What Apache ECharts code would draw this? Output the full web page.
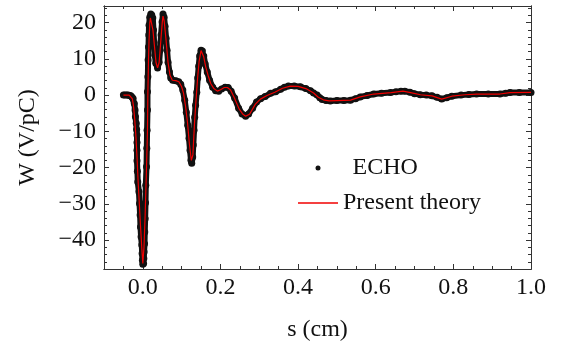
<!DOCTYPE html>
<html>
<head>
<meta charset="utf-8">
<script src="https://cdn.jsdelivr.net/npm/echarts@6/dist/echarts.min.js"></script>
<style>
  html, body { margin: 0; padding: 0; background: #fff; }
  #chart { width: 563px; height: 348px; }
</style>
</head>
<body>
<div id="chart"></div>
<script>
// ECHO simulation points (s in cm, W in V/pC)
const echoS = [-0.050, -0.046, -0.042, -0.038, -0.034, -0.031, -0.028, -0.025, -0.022, -0.020,
  -0.019, -0.017, -0.016, -0.015, -0.015, -0.015, -0.015, -0.014, -0.013, -0.010,
  -0.0085, -0.007, -0.006, -0.0045, -0.0026, -0.0018, -0.001, 0, 0.002, 0.0026,
  0.0033, 0.0044, 0.005, 0.006, 0.007, 0.0077, 0.0095, 0.0103, 0.011, 0.012,
  0.012, 0.013, 0.0136, 0.0146, 0.0154, 0.016, 0.018, 0.0206, 0.023, 0.0257,
  0.0275, 0.029, 0.031, 0.0334, 0.038, 0.042, 0.0445, 0.047, 0.0496, 0.052,
  0.0548, 0.0573, 0.06, 0.0625, 0.065, 0.0686, 0.072, 0.077, 0.085, 0.0925,
  0.0977, 0.103, 0.108, 0.112, 0.1157, 0.119, 0.1216, 0.124, 0.126, 0.1285,
  0.130, 0.132, 0.1337, 0.136, 0.139, 0.1414, 0.144, 0.1465, 0.150, 0.1535,
  0.157, 0.1607, 0.166, 0.172, 0.180, 0.1877, 0.1954, 0.203, 0.212, 0.2198,
  0.2275, 0.2365, 0.2468, 0.2558, 0.2648, 0.2725, 0.2828, 0.293, 0.3033, 0.315,
  0.329, 0.342, 0.355, 0.365, 0.375, 0.39, 0.406, 0.42, 0.432, 0.44,
  0.449, 0.456, 0.462, 0.472, 0.483, 0.5, 0.518, 0.535, 0.548, 0.56,
  0.578, 0.595, 0.615, 0.638, 0.652, 0.665, 0.675, 0.688, 0.7, 0.715,
  0.73, 0.745, 0.758, 0.77, 0.783, 0.796, 0.82, 0.84, 0.86, 0.89,
  0.92, 0.935, 0.946, 0.97, 1.0];
const echoW = [0, 0, 0, 0, -0.1, -0.2, -0.5, -0.9, -2.3, -4.1,
  -6.0, -7.8, -9.5, -11, -13.1, -15.2, -18.1, -21, -24, -26.7,
  -29.9, -33.1, -36.4, -39.1, -41.4, -43.7, -45.6, -46.7, -46.5, -45.1,
  -43.3, -41, -37.8, -34.1, -29.7, -24.9, -19.8, -14.7, -9.7, -4.1,
  0.9, 5.1, 9.7, 13.3, 16.6, 19.3, 21.5, 22.4, 22.1, 21.3,
  18, 14.6, 11, 8.8, 7.5, 9.1, 12.4, 16.6, 20.2, 22.4,
  21.5, 19, 15.7, 12.4, 9.1, 6.4, 4.7, 4.1, 4, 3.7,
  3, 1.4, -1.4, -4.7, -8.3, -11.9, -15.2, -18, -18.8, -17.1,
  -13.8, -9.7, -6.1, -2.8, 0.8, 4.7, 8, 10.8, 12.4, 12.2,
  10.8, 8.6, 6.4, 4.1, 2.2, 1.2, 1.1, 1.7, 2.2, 2.1,
  1.1, -0.8, -3.6, -5.2, -5.8, -5.2, -3.6, -1.9, -1, -0.4,
  0.5, 0.9, 1.6, 2.2, 2.5, 2.5, 2.3, 1.8, 1.2, 0.6,
  0, -0.7, -1.2, -1.5, -1.6, -1.5, -1.5, -1.4, -1, -0.5,
  -0.1, 0.3, 0.5, 0.7, 0.9, 1.1, 1.1, 0.8, 0.4, 0.1,
  0, -0.2, -0.6, -1.1, -0.7, -0.3, 0, 0.2, 0.3, 0.3,
  0.3, 0.5, 0.7, 0.75, 0.75];

// present theory curve
const theoryS = [-0.05, -0.035, -0.03, -0.027, -0.024, -0.021, -0.018, -0.015, -0.012, -0.009,
  -0.006, -0.003, 0, 0.003, 0.006, 0.009, 0.011, 0.012, 0.013, 0.0145,
  0.016, 0.018, 0.0195, 0.022, 0.026, 0.03, 0.034, 0.038, 0.042, 0.046,
  0.05, 0.052, 0.055, 0.06, 0.065, 0.07, 0.076, 0.085, 0.093, 0.1,
  0.105, 0.11, 0.115, 0.12, 0.125, 0.129, 0.133, 0.137, 0.141, 0.145,
  0.15, 0.153, 0.157, 0.162, 0.168, 0.175, 0.183, 0.192, 0.2, 0.21,
  0.218, 0.226, 0.236, 0.248, 0.258, 0.265, 0.275, 0.29, 0.303, 0.32,
  0.34, 0.36, 0.38, 0.4, 0.42, 0.44, 0.452, 0.465, 0.48, 0.5,
  0.535, 0.56, 0.595, 0.64, 0.67, 0.69, 0.715, 0.745, 0.77, 0.796,
  0.83, 0.86, 0.92, 0.946, 1.0];
const theoryW = [0, 0, -0.3, -1, -3, -6.5, -11, -17, -24, -30,
  -36, -41.5, -46.5, -42, -33, -22, -14, -9.5, 0, 9,
  15, 20, 21.3, 21, 18, 13.5, 9, 7.5, 9, 14.5,
  20, 21.8, 20.5, 15, 9, 5.5, 4.1, 4, 3.7, 2.3,
  0.5, -3, -7.5, -13.5, -18, -16.5, -8, -1.5, 4.5, 9.3,
  12.3, 12.2, 10.5, 7.8, 5.5, 3.2, 1.8, 1.1, 1.5, 2.1,
  2.1, 1.4, -0.8, -3.8, -5.3, -5.8, -5.3, -2.5, -1.1, -0.1,
  0.8, 1.9, 2.5, 2.4, 1.8, 0.6, -0.6, -1.3, -1.6, -1.5,
  -1.4, -0.5, 0.3, 0.7, 1.1, 0.7, 0.1, -0.2, -1.1, -0.3,
  0.1, 0.3, 0.3, 0.7, 0.75];

// tick positions
const xMajor = [0, 0.2, 0.4, 0.6, 0.8, 1.0];
const xMinor = [-0.05, 0.05, 0.1, 0.15, 0.25, 0.3, 0.35, 0.45, 0.5, 0.55, 0.65, 0.7, 0.75, 0.85, 0.9, 0.95];
const yMajor = [-40, -30, -20, -10, 0, 10, 20];
const yMinor = [-48, -46, -44, -42, -38, -36, -34, -32, -28, -26, -24, -22, -18, -16, -14, -12,
  -8, -6, -4, -2, 2, 4, 6, 8, 12, 14, 16, 18, 22, 24];

const FONT = 'Liberation Serif';
const frameColor = '#333';
const textColor = '#111';
const dotColor = '#111';
const theoryColor = '#f00000';

function xAxisDef(pos, ticks, len, withLabels) {
  return {
    type: 'value',
    position: pos,
    min: -0.1,
    max: 1.0,
    axisLine: { show: true, onZero: false, lineStyle: { color: frameColor, width: 1 } },
    axisTick: { show: true, inside: true, length: len, customValues: ticks, lineStyle: { color: frameColor } },
    axisLabel: {
      show: withLabels,
      customValues: xMajor,
      margin: 7,
      color: textColor,
      fontFamily: FONT,
      fontSize: 24,
      formatter: (v) => v.toFixed(1),
    },
    splitLine: { show: false },
  };
}

function yAxisDef(pos, ticks, len, withLabels) {
  return {
    type: 'value',
    position: pos,
    min: -48,
    max: 24.6,
    axisLine: { show: true, onZero: false, lineStyle: { color: frameColor, width: 1 } },
    axisTick: { show: true, inside: true, length: len, customValues: ticks, lineStyle: { color: frameColor } },
    axisLabel: {
      show: withLabels,
      customValues: yMajor,
      margin: 8,
      color: textColor,
      fontFamily: FONT,
      fontSize: 24,
      formatter: (v) => (v < 0 ? '\u2212' + Math.abs(v) : String(v)),
    },
    splitLine: { show: false },
  };
}

const chart = echarts.init(document.getElementById('chart'));

const xMain = xAxisDef('bottom', xMajor, 5, true);
xMain.name = 's (cm)';
xMain.nameLocation = 'middle';
xMain.nameGap = 49;
xMain.nameTextStyle = { color: textColor, fontFamily: FONT, fontSize: 24 };

const yMain = yAxisDef('left', yMajor, 5, true);
yMain.name = 'W (V/pC)';
yMain.nameLocation = 'middle';
yMain.nameGap = 64;
yMain.nameTextStyle = { color: textColor, fontFamily: FONT, fontSize: 24 };

const option = {
  animation: false,
  backgroundColor: '#fff',
  grid: { left: 104, right: 32, top: 6, bottom: 79 },
  xAxis: [
    xMain,
    xAxisDef('bottom', xMinor, 3, false),
    xAxisDef('top', xMajor, 5, false),
    xAxisDef('top', xMinor, 3, false),
  ],
  yAxis: [
    yMain,
    yAxisDef('left', yMinor, 3, false),
    yAxisDef('right', yMajor, 5, false),
    yAxisDef('right', yMinor, 3, false),
  ],
  legend: [
    {
      data: [{ name: 'ECHO', icon: 'circle', itemStyle: { color: dotColor, borderWidth: 0 } }],
      left: 315.5,
      top: 156,
      padding: 0,
      itemWidth: 5,
      itemHeight: 5,
      selectedMode: false,
      textStyle: { color: textColor, fontFamily: FONT, fontSize: 24, padding: [0, 0, 0, 27] },
    },
    {
      data: [{ name: 'Present theory', icon: 'rect', itemStyle: { color: theoryColor, borderWidth: 0 } }],
      left: 298,
      top: 191,
      padding: 0,
      itemWidth: 40,
      itemHeight: 1.6,
      selectedMode: false,
      textStyle: { color: textColor, fontFamily: FONT, fontSize: 24 },
    },
  ],
  series: [
    {
      name: 'ECHO',
      type: 'line',
      data: echoS.map((s, i) => [s, echoW[i]]),
      symbol: 'circle',
      symbolSize: 7,
      showSymbol: true,
      showAllSymbol: true,
      itemStyle: { color: dotColor },
      lineStyle: { color: dotColor, width: 6 },
      z: 2,
    },
    {
      name: 'Present theory',
      type: 'line',
      data: theoryS.map((s, i) => [s, theoryW[i]]),
      showSymbol: false,
      itemStyle: { color: theoryColor },
      lineStyle: { color: theoryColor, width: 1.2 },
      z: 3,
    },
  ],
};

chart.setOption(option);
</script>
</body>
</html>
